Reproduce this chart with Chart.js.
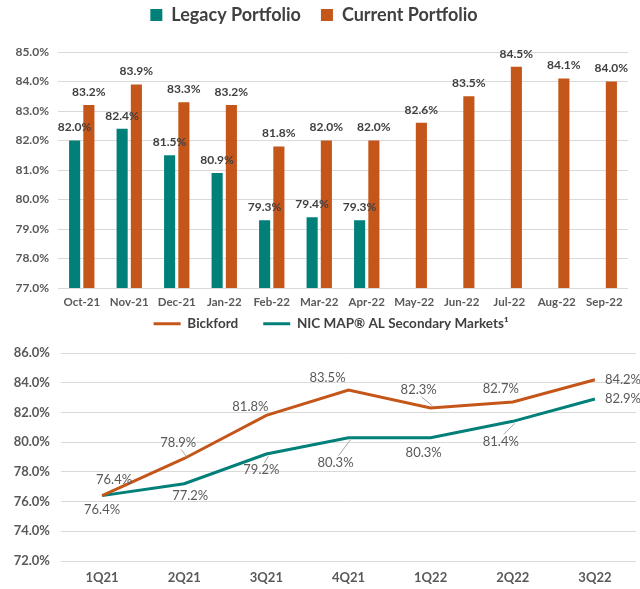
<!DOCTYPE html>
<html>
<head>
<meta charset="utf-8">
<script src="https://cdn.jsdelivr.net/npm/chart.js@4.4.0/dist/chart.umd.min.js"></script>
<style>
  html, body { margin: 0; padding: 0; background: #fff; }
  #topBox { position: absolute; left: 0; top: 0; width: 640px; height: 312px; }
  #bottomBox { position: absolute; left: 0; top: 312px; width: 640px; height: 277px; }
</style>
</head>
<body>
<div id="topBox"><canvas id="portfolioChart"></canvas></div>
<div id="bottomBox"><canvas id="occupancyChart"></canvas></div>
<script>
// Monthly occupancy by portfolio
const months = ["Oct-21", "Nov-21", "Dec-21", "Jan-22", "Feb-22", "Mar-22", "Apr-22", "May-22", "Jun-22", "Jul-22", "Aug-22", "Sep-22"];
const legacyPortfolio = [82.0, 82.4, 81.5, 80.9, 79.3, 79.4, 79.3, null, null, null, null, null];
const currentPortfolio = [83.2, 83.9, 83.3, 83.2, 81.8, 82.0, 82.0, 82.6, 83.5, 84.5, 84.1, 84.0];
const barAxisMin = 77;
const barAxisMax = 85;

// Quarterly occupancy vs market
const quarters = ["1Q21", "2Q21", "3Q21", "4Q21", "1Q22", "2Q22", "3Q22"];
const bickford = [76.4, 78.9, 81.8, 83.5, 82.3, 82.7, 84.2];
const nicMap = [76.4, 77.2, 79.2, 80.3, 80.3, 81.4, 82.9];
const lineAxisMin = 72;
const lineAxisMax = 86;

const TEAL = "#008078";
const ORANGE = "#C5561A";
const FONT = "Lato, 'Open Sans', sans-serif";

// label placement for the line chart: [dx, dy, align, leader]
const bickfordLabelPos = [[12, -16, "center"], [-6, -16, "center", true], [-16, -9, "center"], [-21, -12, "center"], [-12, -18, "center", true], [-12, -13, "center"], [10, 0, "left"]];
const nicLabelPos = [[0, 14, "center"], [6, 12, "center"], [-5, 16, "center", true], [-13, 25, "center", true], [-7, 15, "center"], [-12, 20, "center", true], [10, 0, "left"]];

function pct(v) {
  return Number(v).toFixed(1) + "%";
}

// fixed legend height, then nudge the legend box
function legendBox(h, dx, dy) {
  return {
    id: "legendBox",
    beforeInit(chart) {
      const fit = chart.legend.fit;
      chart.legend.fit = function () {
        fit.bind(chart.legend)();
        this.height = h;
      };
    },
    afterLayout(chart) {
      const lg = chart.legend;
      lg.left += dx;
      lg.right += dx;
      lg.top += dy;
      lg.bottom += dy;
    },
  };
}

// value labels above bars
const barLabels = {
  id: "barLabels",
  afterDatasetsDraw(chart) {
    const ctx = chart.ctx;
    ctx.save();
    ctx.font = "bold 12px " + FONT;
    ctx.fillStyle = "#404040";
    ctx.textAlign = "center";
    ctx.textBaseline = "bottom";
    chart.data.datasets.forEach((ds, i) => {
      chart.getDatasetMeta(i).data.forEach((bar, j) => {
        if (ds.data[j] == null) return;
        ctx.fillText(pct(ds.data[j]), bar.x, bar.y - 7);
      });
    });
    ctx.restore();
  },
};

// value labels next to line points
const lineLabels = {
  id: "lineLabels",
  afterDatasetsDraw(chart) {
    const ctx = chart.ctx;
    const positions = [bickfordLabelPos, nicLabelPos];
    ctx.save();
    ctx.font = "13px " + FONT;
    ctx.textBaseline = "middle";
    chart.data.datasets.forEach((ds, i) => {
      chart.getDatasetMeta(i).data.forEach((pt, j) => {
        const p = positions[i][j];
        const lx = pt.x + p[0];
        const ly = pt.y + p[1];
        if (p[3]) {
          ctx.strokeStyle = "#a6a6a6";
          ctx.lineWidth = 1;
          ctx.beginPath();
          const sy = p[1] < 0 ? ly + 7 : ly - 7;
          ctx.moveTo(lx + (p[0] < 0 ? 3 : -3), sy);
          ctx.lineTo(pt.x - Math.sign(p[0]) * 2, pt.y + (p[1] < 0 ? -2 : 2));
          ctx.stroke();
        }
        ctx.fillStyle = "#595959";
        ctx.textAlign = p[2];
        ctx.fillText(pct(ds.data[j]), lx, ly);
      });
    });
    ctx.restore();
  },
};

new Chart(document.getElementById("portfolioChart"), {
  type: "bar",
  data: {
    labels: months,
    datasets: [
      {
        label: "Legacy Portfolio",
        data: legacyPortfolio,
        backgroundColor: TEAL,
        categoryPercentage: 0.6,
        barPercentage: 0.78,
      },
      {
        label: "Current Portfolio",
        data: currentPortfolio,
        backgroundColor: ORANGE,
        categoryPercentage: 0.6,
        barPercentage: 0.78,
      },
    ],
  },
  options: {
    responsive: true,
    maintainAspectRatio: false,
    animation: false,
    layout: { padding: { left: 0, right: 12, top: 0, bottom: 0 } },
    plugins: {
      legend: {
        position: "top",
        labels: {
          font: { family: FONT, size: 18, weight: "bold" },
          color: "#404040",
          boxWidth: 12,
          boxHeight: 12,
          padding: 20,
        },
      },
      tooltip: { enabled: false },
    },
    scales: {
      x: {
        afterFit(scale) { scale.height = 24; },
        grid: { display: false, drawTicks: false },
        border: { display: false },
        ticks: { font: { family: FONT, size: 11.5, weight: "bold" }, color: "#595959", padding: 7, maxRotation: 0 },
      },
      y: {
        min: barAxisMin,
        max: barAxisMax,
        afterFit(scale) { scale.width = 58; },
        grid: { color: "#d9d9d9", drawTicks: false },
        border: { display: false },
        ticks: { stepSize: 1, callback: pct, font: { family: FONT, size: 12, weight: "bold" }, color: "#595959", padding: 9 },
      },
    },
  },
  plugins: [legendBox(52, 0, -14), barLabels],
});

new Chart(document.getElementById("occupancyChart"), {
  type: "line",
  data: {
    labels: quarters,
    datasets: [
      {
        label: "Bickford",
        data: bickford,
        borderColor: ORANGE,
        backgroundColor: ORANGE,
        borderWidth: 3,
        pointRadius: 0,
        tension: 0,
      },
      {
        label: "NIC MAP\u00AE AL Secondary Markets\u00B9",
        data: nicMap,
        borderColor: TEAL,
        backgroundColor: TEAL,
        borderWidth: 3,
        pointRadius: 0,
        tension: 0,
      },
    ],
  },
  options: {
    responsive: true,
    maintainAspectRatio: false,
    animation: false,
    layout: { padding: { left: 0, right: 4, top: 0, bottom: 0 } },
    plugins: {
      legend: {
        position: "top",
        labels: {
          font: { family: FONT, size: 13.5, weight: "bold" },
          color: "#404040",
          usePointStyle: true,
          pointStyle: "line",
          pointStyleWidth: 27,
          padding: 25,
        },
      },
      tooltip: { enabled: false },
    },
    scales: {
      x: {
        offset: true,
        afterFit(scale) { scale.height = 28; },
        grid: { display: false, drawTicks: false },
        border: { display: false },
        ticks: { font: { family: FONT, size: 13, weight: "bold" }, color: "#595959", padding: 9 },
      },
      y: {
        min: lineAxisMin,
        max: lineAxisMax,
        afterFit(scale) { scale.width = 61; },
        grid: { color: "#d9d9d9", drawTicks: false },
        border: { display: false },
        ticks: { stepSize: 2, callback: pct, font: { family: FONT, size: 13, weight: "bold" }, color: "#595959", padding: 11 },
      },
    },
  },
  plugins: [legendBox(41, 13, -20), lineLabels],
});
</script>
</body>
</html>
